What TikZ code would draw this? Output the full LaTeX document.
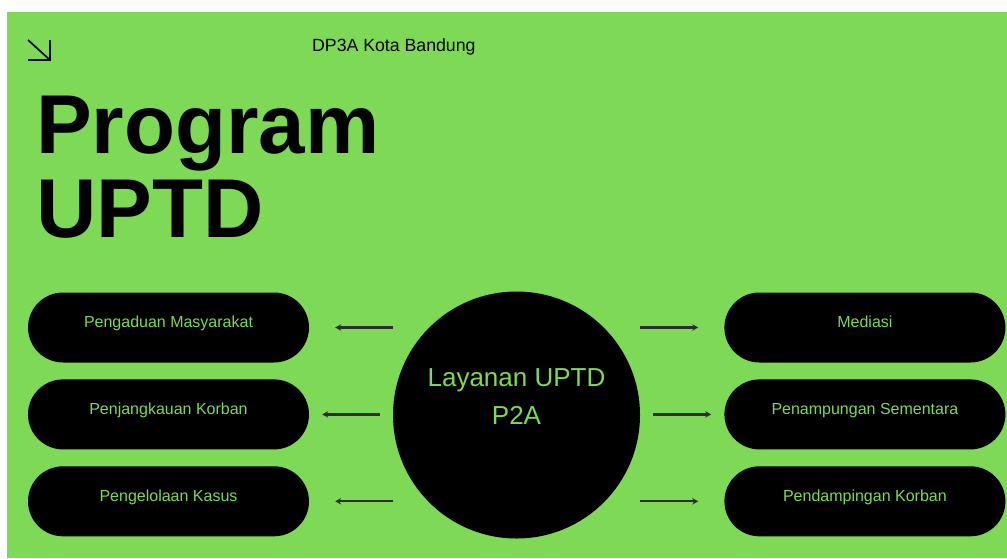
\documentclass[tikz,border=0pt]{standalone}
\usepackage{fontspec}
\setmainfont{Liberation Sans}
\usetikzlibrary{arrows.meta, positioning, calc}
\definecolor{leaf}{HTML}{7ED957}
\definecolor{darkgray}{HTML}{2E2E2E}
\tikzset{
  pill/.style={
    rectangle, rounded corners=35pt,
    minimum width=281pt, minimum height=70pt,
    inner sep=0pt, fill=black, text=leaf,
    text height=10pt, text depth=10pt,
    font=\fontsize{16}{19}\selectfont,
  },
  hub/.style={
    circle, minimum size=247pt, inner sep=0pt,
    fill=black, text=leaf, align=center, text depth=36pt,
    font=\fontsize{26}{38}\selectfont,
  },
  headline/.style={anchor=base west, inner sep=0pt, font=\fontsize{83.5}{84}\selectfont\bfseries},
  caption/.style={anchor=base west, inner sep=0pt, font=\fontsize{17.7}{20}\selectfont},
  link/.style={-{Stealth[length=6pt, width=6.5pt]}, line width=2.2pt, color=darkgray},
}
\begin{document}
\begin{tikzpicture}[x=1pt, y=-1pt, node distance=16.5pt]

  % page and green panel
  \fill[white] (0,0) rectangle (1007,558);
  \fill[leaf] (7,12) rectangle (1007,558);
  \useasboundingbox (0,0) rectangle (1007,558);

  % corner icon
  \coordinate (icon) at (28,40);
  \draw[line width=1.7pt] (icon) -- ++(22,20) coordinate (icontip);
  \draw[line width=1.7pt] (icontip -| icon) -- (icontip) -- (icontip |- icon);

  \node[caption] (org) at (312,51) {DP3A Kota Bandung};
  \node[headline] (title) at (36,153) {Program};
  \node[headline] (subtitle) at (36,237) {UPTD};

  \node[pill] (aduan) at (168.5,327.5) {Pengaduan Masyarakat};
  \node[pill, below=of aduan] (jangkau) {Penjangkauan Korban};
  \node[pill, below=of jangkau] (kasus) {Pengelolaan Kasus};
  \node[hub] (layanan) at (516.5,415) {Layanan UPTD\\P2A};
  \node[pill, right=415pt of aduan] (mediasi) {Mediasi};
  \node[pill, right=415pt of jangkau] (tampung) {Penampungan Sementara};
  \node[pill, right=415pt of kasus] (damping) {Pendampingan Korban};

  \coordinate (in1) at ($(aduan.east)+(84,0)$);
  \coordinate (in2) at ($(jangkau.east)+(71,0)$);
  \coordinate (in3) at ($(kasus.east)+(84,0)$);
  \coordinate (out1) at ($(mediasi.west)+(-84,0)$);
  \coordinate (out2) at ($(tampung.west)+(-71,0)$);
  \coordinate (out3) at ($(damping.west)+(-84,0)$);

  \draw[link, shorten >=26pt] (in1) -- (aduan.east);
  \draw[link, shorten >=13pt] (in2) -- (jangkau.east);
  \draw[link, shorten >=26pt] (in3) -- (kasus.east);
  \draw[link, shorten >=26pt] (out1) -- (mediasi.west);
  \draw[link, shorten >=13pt] (out2) -- (tampung.west);
  \draw[link, shorten >=26pt] (out3) -- (damping.west);

\end{tikzpicture}
\end{document}
